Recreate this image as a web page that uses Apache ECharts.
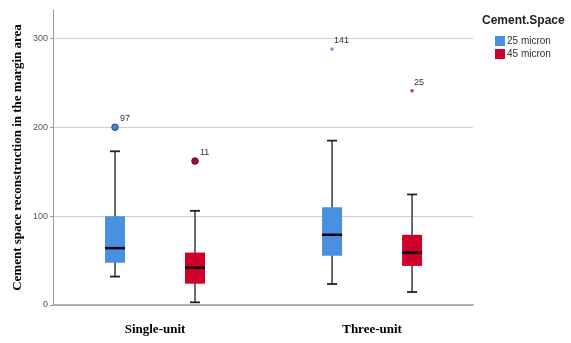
<!DOCTYPE html>
<html><head><meta charset="utf-8">
<script src="https://cdn.jsdelivr.net/npm/echarts@6/dist/echarts.min.js"></script>
<style>html,body{margin:0;padding:0;background:#fff}#c{width:571px;height:343px}</style>
</head><body><div id="c"></div>
<script>
const categories = ['Single-unit', 'Three-unit'];
const seriesNames = ['25 micron', '45 micron'];
// [min, Q1, median, Q3, max]
const box25 = [[32, 47.6, 64, 100, 173], [23.6, 55.5, 79, 110, 185]];
const box45 = [[3, 24, 42, 59, 106], [14.6, 44, 59, 79, 124.4]];
// [category index, value, case label]
const out25 = [[0, 200, '97'], [1, 288, '141']];
const out45 = [[0, 162, '11'], [1, 241, '25']];
const extreme25 = [false, true];
const extreme45 = [false, true];
const yTicks = [0, 100, 200, 300];

const BLUE = '#4A90E2', RED = '#D0002C';
const chart = echarts.init(document.getElementById('c'));

function boxRender(offset) {
  return function (params, api) {
    const c = api.value(0);
    const pMin = api.coord([c, api.value(1)]);
    const pQ1 = api.coord([c, api.value(2)]);
    const pMed = api.coord([c, api.value(3)]);
    const pQ3 = api.coord([c, api.value(4)]);
    const pMax = api.coord([c, api.value(5)]);
    const x = pMin[0] + offset;
    const w = 20, cap = 10;
    const color = api.visual('color');
    const ls = {stroke: '#3a3a3a', lineWidth: 1.5};
    return {type: 'group', children: [
      {type: 'line', shape: {x1: x, y1: pMax[1], x2: x, y2: pMin[1]}, style: ls},
      {type: 'line', shape: {x1: x - cap / 2, y1: pMax[1], x2: x + cap / 2, y2: pMax[1]}, style: {stroke: '#222', lineWidth: 1.8}},
      {type: 'line', shape: {x1: x - cap / 2, y1: pMin[1], x2: x + cap / 2, y2: pMin[1]}, style: {stroke: '#222', lineWidth: 1.8}},
      {type: 'rect', shape: {x: x - w / 2, y: pQ3[1], width: w, height: pQ1[1] - pQ3[1]}, style: {fill: color, stroke: null}},
      {type: 'line', shape: {x1: x - w / 2, y1: pMed[1], x2: x + w / 2, y2: pMed[1]}, style: {stroke: '#000', lineWidth: 2.5}}
    ]};
  };
}

function outRender(offset, list, extreme, dotColor, edge) {
  return function (params, api) {
    const c = api.value(0);
    const p = api.coord([c, api.value(1)]);
    const x = p[0] + offset, y = p[1];
    const ext = extreme[params.dataIndex];
    const label = list[params.dataIndex][2];
    return {type: 'group', children: [
      ext ? {type: 'circle', shape: {cx: x, cy: y, r: 1.8}, style: {fill: dotColor, opacity: 0.8}}
          : {type: 'circle', shape: {cx: x, cy: y, r: 3.3}, style: {fill: dotColor, stroke: edge, lineWidth: 1}},
      {type: 'text', x: x + (ext ? 2 : 5), y: y - 4, style: {text: label, fill: '#333', font: '9px Arial, "Liberation Sans", sans-serif', textVerticalAlign: 'bottom', textAlign: 'left'}}
    ]};
  };
}

chart.setOption({
  animation: false,
  backgroundColor: '#fff',
  title: {text: 'Cement.Space', left: 477, top: 10, textStyle: {fontSize: 12, fontWeight: 'bold', color: '#222', fontFamily: 'Arial, "Liberation Sans", sans-serif'}},
  legend: {
    orient: 'vertical', left: 490, top: 31, itemWidth: 10, itemHeight: 10, itemGap: 3,
    textStyle: {fontSize: 10, color: '#333', fontFamily: 'Arial, "Liberation Sans", sans-serif', padding: [0, 0, 0, -3]},
    data: [{name: seriesNames[0], icon: 'rect'}, {name: seriesNames[1], icon: 'rect'}]
  },
  grid: {left: 53, right: 98, top: 10, bottom: 38},
  xAxis: {
    type: 'value', min: -0.47, max: 1.465,
    axisLine: {show: true, onZero: false, lineStyle: {color: '#999', width: 1.5}}, axisTick: {show: false},
    axisLabel: {customValues: [0, 1], formatter: v => categories[Math.round(v)] || '',
      margin: 18, color: '#000', fontSize: 13, fontWeight: 'bold', fontFamily: '"Liberation Serif", "Times New Roman", serif'},
    splitLine: {show: false}
  },
  yAxis: {
    type: 'value', min: 0, max: 332, interval: 100,
    name: 'Cement space reconstruction in the margin area', nameLocation: 'middle', nameGap: 29, nameMoveOverlap: false,
    nameTextStyle: {fontSize: 13, fontWeight: 'bold', color: '#000', fontFamily: '"Liberation Serif", "Times New Roman", serif'},
    axisLine: {show: true, onZero: false, lineStyle: {color: '#999'}},
    axisTick: {show: true, length: 3, lineStyle: {color: '#999'}},
    axisLabel: {fontSize: 9, color: '#555', margin: 5, showMaxLabel: false, fontFamily: 'Arial, "Liberation Sans", sans-serif',
      formatter: v => (yTicks.indexOf(v) >= 0 ? String(v) : '')},
    splitLine: {show: true, showMaxLine: false, lineStyle: {color: '#cfcfcf', width: 1.2}}
  },
  series: [
    {name: seriesNames[0], type: 'custom', itemStyle: {color: BLUE}, renderItem: boxRender(-40),
      encode: {x: 0, y: [1, 2, 3, 4, 5]}, data: box25.map((b, i) => [i].concat(b)), z: 3},
    {name: seriesNames[1], type: 'custom', itemStyle: {color: RED}, renderItem: boxRender(40),
      encode: {x: 0, y: [1, 2, 3, 4, 5]}, data: box45.map((b, i) => [i].concat(b)), z: 3},
    {name: seriesNames[0], type: 'custom', itemStyle: {color: BLUE}, renderItem: outRender(-40, out25, extreme25, '#4A7FD0', '#2F4F8F'),
      encode: {x: 0, y: 1}, data: out25.map(o => [o[0], o[1]]), z: 4},
    {name: seriesNames[1], type: 'custom', itemStyle: {color: RED}, renderItem: outRender(40, out45, extreme45, '#A0102E', '#7A0A22'),
      encode: {x: 0, y: 1}, data: out45.map(o => [o[0], o[1]]), z: 4}
  ]
});
</script></body></html>
